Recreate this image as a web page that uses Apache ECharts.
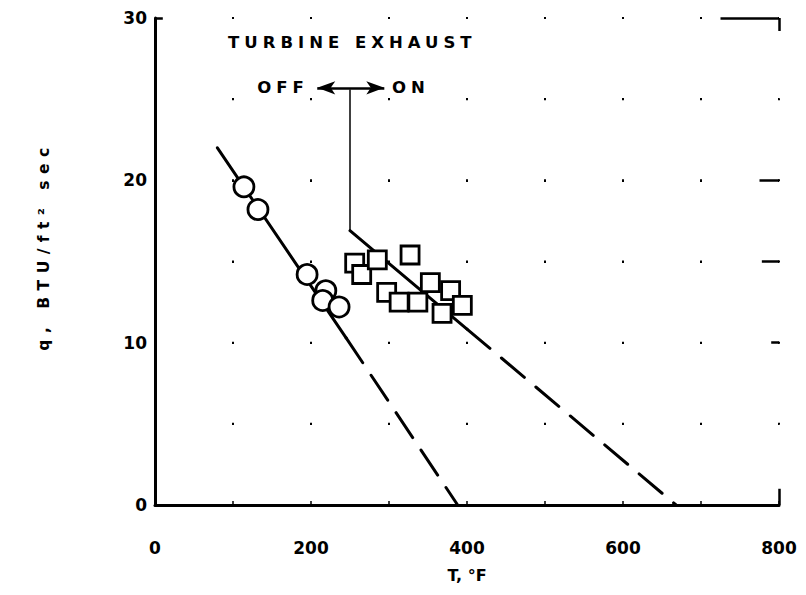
<!DOCTYPE html>
<html><head><meta charset="utf-8">
<script src="https://cdn.jsdelivr.net/npm/echarts@6/dist/echarts.min.js"></script>
<style>
html,body{margin:0;padding:0;background:#fff;}
#c{width:806px;height:595px;}
#c text[style*="16.5px"]{letter-spacing:5px;}
#c text[style*="15.5px"]{letter-spacing:6.5px;}
</style></head><body><div id="c"></div>
<script>
// Turbine exhaust OFF (circles)
const offT = [114, 132, 195, 219, 215, 236];
const offQ = [19.6, 18.2, 14.2, 13.2, 12.6, 12.2];
// Turbine exhaust ON (squares)
const onT = [256, 265, 285, 327, 353, 297, 313, 337, 379, 394, 368];
const onQ = [14.9, 14.2, 15.1, 15.4, 13.7, 13.1, 12.5, 12.5, 13.2, 12.3, 11.8];
// fitted lines (solid part, dashed extrapolation)
const offSolid = [[80, 22.0], [245, 10.3]];
const offDashed = [[245, 10.3], [388, 0]];
const onSolid = [[250, 16.9], [400, 10.84]];
const onDashed = [[400, 10.84], [668, 0]];
// annotations
const dividerLine = [[250, 25.6], [250, 16.9]];
const arrowLine = [[208, 25.7], [294, 25.7]];
const notes = [
  {name: 'TURBINE EXHAUST', value: [253, 28.5]},
  {name: 'OFF', value: [164, 25.7]},
  {name: 'ON', value: [328, 25.7]}
];
// partial frame marks on top / right edge
const frameMarks = [
  [[0, 30], [10, 30]],
  [[725, 30], [800, 30]],
  [[800, 30], [800, 29.2]],
  [[775, 20], [800, 20]],
  [[778, 15], [800, 15]],
  [[790, 10], [800, 10]],
  [[800, 0], [800, 1.0]]
];
const xTicks = [0, 200, 400, 600, 800];
const yTicks = [0, 10, 20, 30];
const yTitle = 'q, BTU/ft² sec';

const FONT = 'DejaVu Sans';
const chart = echarts.init(document.getElementById('c'), null, {renderer: 'svg'});
const zip = (a, b) => a.map((v, i) => [v, b[i]]);
const blackLine = (data, dashed) => ({
  type: 'line', data: data, showSymbol: false, symbol: 'none', silent: true, z: 2,
  lineStyle: {color: '#000', width: 3, type: dashed ? [30, 15] : 'solid', cap: 'round'}
});
chart.setOption({
  animation: false,
  backgroundColor: '#fff',
  grid: {left: 155, right: 27, top: 18, bottom: 90},
  graphic: [{
    type: 'text', x: 44, y: 246, rotation: Math.PI / 2, silent: true,
    style: {
      text: yTitle, align: 'center', verticalAlign: 'middle',
      fill: '#000', fontSize: 15.5, fontWeight: 'bold', fontFamily: FONT
    }
  }],
  xAxis: {
    type: 'value', min: 0, max: 800, interval: 100,
    axisLine: {show: true, lineStyle: {color: '#000', width: 3}},
    axisTick: {show: true, inside: true, length: 4, lineStyle: {color: '#000', width: 1.5}},
    axisLabel: {
      formatter: v => xTicks.indexOf(v) >= 0 ? String(v) : '',
      color: '#000', fontSize: 17, fontWeight: 'bold', fontFamily: FONT, margin: 34
    },
    splitLine: {show: true, lineStyle: {color: '#000', width: 2, type: [2, 79.17], dashOffset: 1}},
    name: 'T, °F', nameLocation: 'middle', nameGap: 62,
    nameTextStyle: {color: '#000', fontSize: 16, fontWeight: 'bold', fontFamily: FONT}
  },
  yAxis: {
    type: 'value', min: 0, max: 30, interval: 5,
    axisLine: {show: true, lineStyle: {color: '#000', width: 3}},
    axisTick: {show: false},
    axisLabel: {
      formatter: v => yTicks.indexOf(v) >= 0 ? String(v) : '',
      color: '#000', fontSize: 17, fontWeight: 'bold', fontFamily: FONT, margin: 8
    },
    splitLine: {show: true, lineStyle: {color: '#000', width: 2, type: [2, 76], dashOffset: 1}}
  },
  series: [
    blackLine(offSolid, false),
    blackLine(offDashed, true),
    blackLine(onSolid, false),
    blackLine(onDashed, true),
    {
      type: 'line', data: [], silent: true,
      markLine: {
        silent: true, symbol: 'none', label: {show: false},
        lineStyle: {color: '#000', width: 1.5, type: 'solid'},
        data: [[{coord: dividerLine[0]}, {coord: dividerLine[1]}]]
      }
    },
    {
      type: 'line', data: [], silent: true,
      markLine: {
        silent: true, symbol: 'none', label: {show: false},
        lineStyle: {color: '#000', width: 2.5, type: 'solid'},
        data: frameMarks.map(s => [{coord: s[0]}, {coord: s[1]}])
      }
    },
    {
      type: 'line', data: [], silent: true,
      markLine: {
        silent: true, symbol: ['arrow', 'arrow'], symbolSize: [10, 18], label: {show: false},
        lineStyle: {color: '#000', width: 2.5, type: 'solid'},
        data: [[{coord: arrowLine[0]}, {coord: arrowLine[1]}]]
      }
    },
    {
      name: 'OFF', type: 'scatter', data: zip(offT, offQ), symbol: 'circle', symbolSize: 20, z: 5,
      itemStyle: {color: '#fff', borderColor: '#000', borderWidth: 2.8, opacity: 1}
    },
    {
      name: 'ON', type: 'scatter', data: zip(onT, onQ), symbol: 'rect', symbolSize: 18, z: 5,
      itemStyle: {color: '#fff', borderColor: '#000', borderWidth: 2.8, opacity: 1}
    },
    {
      type: 'scatter', data: notes, symbolSize: 0, silent: true, z: 6,
      itemStyle: {opacity: 1},
      label: {
        show: true, position: 'inside', formatter: p => p.name, opacity: 1,
        color: '#000', fontSize: 16.5, fontWeight: 'bold', fontFamily: FONT
      }
    }
  ]
});
</script></body></html>
